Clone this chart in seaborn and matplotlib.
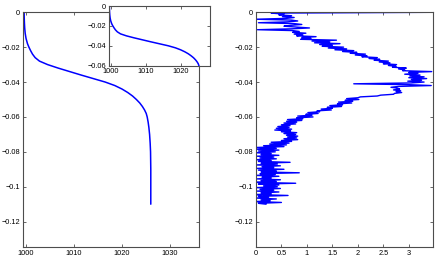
"""
Density profile (left, with zoomed inset) and a noisy stratification profile (right).
"""
import numpy as np
import matplotlib
matplotlib.use('Agg')
import matplotlib.pyplot as plt
from matplotlib.ticker import FuncFormatter
import seaborn as sns

# left panel: density vs depth
rho_depth = [0.0, -0.003, -0.006, -0.009, -0.012, -0.015, -0.018, -0.020, -0.022,
             -0.024, -0.026, -0.028, -0.030, -0.032, -0.034, -0.036, -0.038,
             -0.040, -0.042, -0.044, -0.046, -0.048, -0.050, -0.052, -0.054,
             -0.056, -0.058, -0.060, -0.063, -0.066, -0.070, -0.075, -0.080,
             -0.090, -0.100, -0.110]
rho_values = [999.6, 999.62, 999.66, 999.72, 999.82, 1000.0, 1000.3, 1000.6, 1000.95,
              1001.35, 1001.9, 1002.8, 1004.5, 1006.7, 1009.1, 1011.5, 1014.0,
              1016.5, 1018.5, 1020.0, 1021.2, 1022.2, 1023.0, 1023.7, 1024.25,
              1024.7, 1025.05, 1025.25, 1025.45, 1025.6, 1025.75, 1025.87, 1025.95,
              1026.0, 1026.0, 1026.0]

# right panel: noisy profile, one value every 0.5 mm of depth from the surface
n2_values = [3.60, 0.30, 0.55, 0.45, 0.70, 0.52, 0.75, 0.60, 0.00, 0.70,
             0.82, 0.62, 0.05, 0.75, 0.90, 0.68, 0.55, 0.80, 1.05, 0.70,
             0.03, 0.72, 0.85, 0.72, 0.98, 0.75, 0.92, 0.80, 1.18, 0.90,
             1.08, 0.88, 1.58, 1.10, 1.45, 1.15, 1.65, 1.25, 1.50, 1.30,
             1.72, 1.42, 1.78, 1.55, 1.92, 1.70, 1.98, 1.85, 2.15, 1.95,
             2.18, 2.08, 2.38, 2.22, 2.43, 2.32, 2.60, 2.42, 2.63, 2.50,
             2.76, 2.60, 2.75, 2.68, 2.95, 2.80, 2.92, 2.88, 3.45, 3.00,
             3.18, 2.92, 3.22, 3.02, 3.30, 3.00, 3.35, 3.05, 3.25, 2.98,
             3.30, 3.05, 1.92, 3.00, 3.44, 2.80, 2.65, 2.78, 2.82, 2.70,
             2.84, 2.75, 2.86, 2.72, 2.70, 2.45, 2.38, 2.05, 2.00, 1.78,
             2.02, 1.75, 1.90, 1.62, 1.88, 1.60, 1.70, 1.45, 1.68, 1.40,
             1.50, 1.28, 1.48, 1.20, 1.25, 1.02, 1.22, 0.98, 1.10, 0.82,
             1.12, 0.80, 0.92, 0.62, 0.90, 0.60, 0.80, 0.55, 0.78, 0.50,
             0.67, 0.43, 0.65, 0.40, 0.70, 0.37, 0.68, 0.50, 0.80, 0.55,
             0.78, 0.60, 0.82, 0.62, 0.80, 0.55, 0.82, 0.50, 0.70, 0.30,
             0.65, 0.27, 0.60, 0.15, 0.55, 0.00, 0.40, 0.02, 0.45, 0.05,
             0.38, 0.00, 0.30, 0.10, 0.45, 0.02, 0.35, 0.08, 0.40, 0.00,
             0.30, 0.05, 0.67, 0.10, 0.42, 0.00, 0.48, 0.12, 0.35, 0.02,
             0.55, 0.05, 0.40, 0.10, 0.85, 0.08, 0.38, 0.00, 0.45, 0.12,
             0.30, 0.02, 0.48, 0.10, 0.40, 0.00, 0.78, 0.05, 0.45, 0.15,
             0.42, 0.00, 0.48, 0.08, 0.35, 0.02, 0.45, 0.10, 0.30, 0.00,
             0.63, 0.05, 0.25, 0.00, 0.40, 0.10, 0.28, 0.00, 0.50, 0.05,
             0.20]
n2_depth = np.round(-0.0005 * np.arange(len(n2_values)), 5)

main_yticks = [0, -0.02, -0.04, -0.06, -0.08, -0.1, -0.12]
main_ylim = (-0.1347, 0)

sns.set_style('white')
plt.rcParams['font.family'] = ['Liberation Sans', 'DejaVu Sans']
line_color = (0, 0, 1)
spine_color = '#4d4d4d'
fmt = FuncFormatter(lambda v, pos: '{:g}'.format(v).replace('-', '\u2212'))


def style_axes(axes):
    for spine in axes.spines.values():
        spine.set_visible(True)
        spine.set_color(spine_color)
        spine.set_linewidth(0.8)
    axes.tick_params(direction='in', length=2.2, width=0.6, color=spine_color,
                     labelsize=5.3, pad=2, top=True, right=True,
                     bottom=True, left=True, labelcolor='black')
    axes.yaxis.set_major_formatter(fmt)
    axes.xaxis.set_major_formatter(fmt)
    axes.set_xlabel('')
    axes.set_ylabel('')


figure = plt.figure(figsize=(4.36, 2.58), dpi=100)

ax_left = figure.add_axes([0.052, 0.0415, 0.405, 0.911])
sns.lineplot(x=rho_values, y=rho_depth, sort=False, estimator=None,
             color=line_color, linewidth=1.1, ax=ax_left)
ax_left.set_xlim(999.3, 1036.1)
ax_left.set_ylim(*main_ylim)
ax_left.set_xticks([1000, 1010, 1020, 1030])
ax_left.set_yticks(main_yticks)
style_axes(ax_left)

ax_inset = figure.add_axes([0.25, 0.7453, 0.2323, 0.2314])
ax_inset.set_facecolor('white')
sns.lineplot(x=rho_values, y=rho_depth, sort=False, estimator=None,
             color=line_color, linewidth=1.1, ax=ax_inset)
ax_inset.set_xlim(999.5, 1028.5)
ax_inset.set_ylim(-0.06, 0)
ax_inset.set_xticks([1000, 1010, 1020])
ax_inset.set_yticks([0, -0.02, -0.04, -0.06])
style_axes(ax_inset)

ax_right = figure.add_axes([0.587, 0.0415, 0.4067, 0.911])
sns.lineplot(x=n2_values, y=n2_depth, sort=False, estimator=None,
             color=line_color, linewidth=1.0, ax=ax_right)
ax_right.set_xlim(0, 3.48)
ax_right.set_ylim(*main_ylim)
ax_right.set_xticks([0, 0.5, 1, 1.5, 2, 2.5, 3])
ax_right.set_yticks(main_yticks)
style_axes(ax_right)

figure.savefig('out.png', dpi=100)
